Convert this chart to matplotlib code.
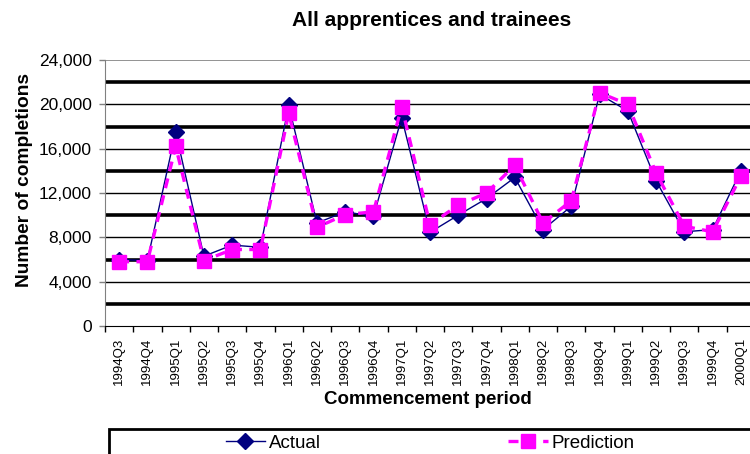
import numpy as np
import matplotlib.pyplot as plt
from matplotlib.patches import Rectangle

plt.rcParams['font.family'] = ['Liberation Sans', 'DejaVu Sans']

# data
periods = ["1994Q3", "1994Q4", "1995Q1", "1995Q2", "1995Q3", "1995Q4",
           "1996Q1", "1996Q2", "1996Q3", "1996Q4", "1997Q1", "1997Q2",
           "1997Q3", "1997Q4", "1998Q1", "1998Q2", "1998Q3", "1998Q4",
           "1999Q1", "1999Q2", "1999Q3", "1999Q4", "2000Q1"]
actual = [6000, 5900, 17500, 6300, 7300, 7100, 19900, 9300, 10300, 9900,
          18800, 8450, 10000, 11500, 13400, 8700, 10800, 20900, 19400,
          13100, 8500, 8700, 14000]
prediction = [5800, 5800, 16200, 5900, 6900, 6900, 19200, 8900, 10050, 10300,
              19800, 9150, 10900, 12000, 14500, 9300, 11300, 21050, 20000,
              13800, 9000, 8500, 13500]
y_ticks = [0, 4000, 8000, 12000, 16000, 20000, 24000]
thick_lines = [2000, 6000, 10000, 14000, 18000, 22000]

fig = plt.figure(figsize=(7.5, 4.54), dpi=100)
ax = fig.add_axes([105/750, 1-326/454, 650/750, 266/454])

x = np.arange(len(periods))

# gridlines
for v in thick_lines:
    ax.axhline(v, color="black", lw=2.6, zorder=1)
for v in y_ticks[1:-1]:
    ax.axhline(v, color="black", lw=1.0, zorder=1)
ax.axhline(24000, color="#808080", lw=1.2, zorder=1)

ax.plot(x, actual, color="#000080", lw=1.0, marker="D", ms=8.5,
        mfc="#000080", mec="#000080", label="Actual", zorder=3)
ax.plot(x, prediction, color="#FF00FF", lw=2.4, ls=(0, (3, 2.2)), marker="s",
        ms=10, mfc="#FF00FF", mec="#FF00FF", label="Prediction", zorder=4)

ax.set_xlim(-0.5, len(periods)-0.5)
ax.set_ylim(0, 24000)
ax.set_yticks(y_ticks)
ax.set_yticklabels([f"{v:,}" for v in y_ticks], fontsize=12.5)
ax.set_xticks(x)
ax.set_xticklabels(periods, rotation=90, fontsize=9.5)
ax.set_xticks(np.arange(len(periods)+1) - 0.5, minor=True)
ax.tick_params(axis="x", which="major", length=0, pad=8.5)
ax.tick_params(axis="x", which="minor", length=4, width=1, direction="out")
ax.tick_params(axis="y", length=4, width=1, direction="out", pad=5.5,
               color="#808080")

for s in ["top", "right"]:
    ax.spines[s].set_visible(False)
ax.spines["left"].set_color("#808080")
ax.spines["bottom"].set_color("black")

fig.text(432/750, 1-20/454, "All apprentices and trainees", ha="center",
         va="center", fontsize=15, fontweight="bold")
fig.text(428/750, 1-400/454, "Commencement period", ha="center",
         va="center", fontsize=13.5, fontweight="bold")
fig.text(25/750, 1-180/454, "Number of completions", ha="center",
         va="center", rotation=90, fontsize=13.8, fontweight="bold")

# legend box runs off the edge of the figure
fig.add_artist(Rectangle((109/750, -0.1), 0.95, 1-429/454+0.1,
                         transform=fig.transFigure, fill=False,
                         ec="black", lw=2, clip_on=False))
handles, labels = ax.get_legend_handles_labels()
fig.legend(handles, labels, loc="center left",
           bbox_to_anchor=(218/750, 1-443/454), ncol=2, frameon=False,
           fontsize=13.5, handlelength=2.1, handletextpad=0.2,
           columnspacing=10.0, borderaxespad=0)

fig.savefig("out.png", dpi=100)
